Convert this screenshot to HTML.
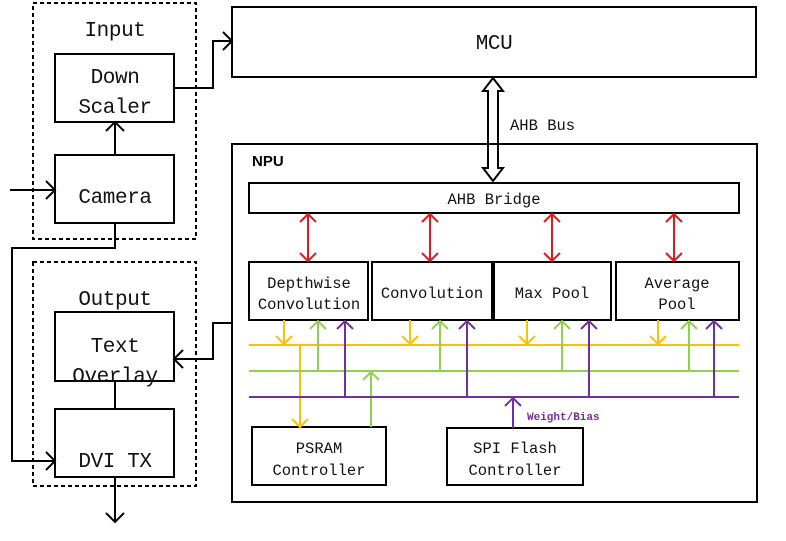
<!DOCTYPE html>
<html><head><meta charset="utf-8"><style>
html,body{margin:0;padding:0;background:#fff;width:786px;height:541px;overflow:hidden}
text{font-family:"Liberation Mono","Noto Sans CJK SC",monospace;fill:#111}
</style></head><body>
<svg width="786" height="541" viewBox="0 0 786 541" xmlns="http://www.w3.org/2000/svg">
<g fill="none" stroke="#000" stroke-width="2">
<rect x="33" y="3" width="163" height="236" stroke-dasharray="4,3"/>
<rect x="33" y="262" width="163" height="224" stroke-dasharray="4,3"/>
<rect x="55" y="54" width="119" height="68"/>
<rect x="55" y="155" width="119" height="68"/>
<rect x="55" y="312" width="119" height="69"/>
<rect x="55" y="409" width="119" height="68"/>
<rect x="232" y="7" width="524" height="70"/>
<rect x="232" y="144" width="525" height="358"/>
<rect x="249" y="183" width="490" height="30"/>
<rect x="249" y="262" width="119" height="58"/>
<rect x="372" y="262" width="120" height="58"/>
<rect x="494" y="262" width="117" height="58"/>
<rect x="616" y="262" width="123" height="58"/>
<rect x="252" y="427" width="134" height="58"/>
<rect x="447" y="428" width="136" height="57"/>
<path d="M115 155V122M106 131L115 122L124 131"/>
<path d="M10 190H55M46 181L55 190L46 199"/>
<path d="M115 223V248H12V461H55M46 452L55 461L46 470"/>
<path d="M115 381V409"/>
<path d="M115 477V522M106 513L115 522L124 513"/>
<path d="M174 88H213V41H232M223 32L232 41L223 50"/>
<path d="M232 323H213V359H174M183 350L174 359L183 368"/>
<path d="M493 78L503 91H498V168H503L493 181L483 168H488V91H483Z"/>
</g>
<g fill="none" stroke="#e8161b" stroke-width="2">
<path d="M308 214V261M300 222L308 214L316 222M300 253L308 261L316 253"/>
<path d="M430 214V261M422 222L430 214L438 222M422 253L430 261L438 253"/>
<path d="M552 214V261M544 222L552 214L560 222M544 253L552 261L560 253"/>
<path d="M674 214V261M666 222L674 214L682 222M666 253L674 261L682 253"/>
</g>
<g fill="none" stroke="#ffc000" stroke-width="2">
<path d="M249 345H739"/>
<path d="M284 320V344M276 336L284 344L292 336"/>
<path d="M410 320V344M402 336L410 344L418 336"/>
<path d="M527 320V344M519 336L527 344L535 336"/>
<path d="M658 320V344M650 336L658 344L666 336"/>
<path d="M300 345V427M292 419L300 427L308 419"/>
</g>
<g fill="none" stroke="#92d050" stroke-width="2">
<path d="M249 371H739"/>
<path d="M318 371V321M310 329L318 321L326 329"/>
<path d="M440 371V321M432 329L440 321L448 329"/>
<path d="M562 371V321M554 329L562 321L570 329"/>
<path d="M689 371V321M681 329L689 321L697 329"/>
<path d="M371 427V372M363 380L371 372L379 380"/>
</g>
<g fill="none" stroke="#7030a0" stroke-width="2">
<path d="M249 397H739"/>
<path d="M345 397V321M337 329L345 321L353 329"/>
<path d="M467 397V321M459 329L467 321L475 329"/>
<path d="M589 397V321M581 329L589 321L597 329"/>
<path d="M714 397V321M706 329L714 321L722 329"/>
<path d="M513 428V398M505 406L513 398L521 406"/>
</g>
<g text-anchor="middle" font-size="21" letter-spacing="-0.4">
<text x="115" y="36">Input</text>
<text x="115" y="83">Down</text>
<text x="115" y="113">Scaler</text>
<text x="115" y="203">Camera</text>
<text x="115" y="305">Output</text>
<text x="115" y="352">Text</text>
<text x="115" y="382">Overlay</text>
<text x="115" y="467">DVI TX</text>
<text x="494" y="49">MCU</text>
</g>
<g text-anchor="middle" font-size="15.5">
<text x="494" y="204">AHB Bridge</text>
<text x="309" y="288">Depthwise</text>
<text x="309" y="309">Convolution</text>
<text x="432" y="298">Convolution</text>
<text x="552" y="298">Max Pool</text>
<text x="677" y="288">Average</text>
<text x="677" y="309">Pool</text>
<text x="319" y="453">PSRAM</text>
<text x="319" y="475">Controller</text>
<text x="515" y="453">SPI Flash</text>
<text x="515" y="475">Controller</text>
</g>
<text x="510" y="130" font-size="15.5">AHB Bus</text>
<text x="252" y="166" font-size="15" font-weight="bold" style="fill:#000;font-family:'Liberation Sans',sans-serif">NPU</text>
<text x="527" y="420" font-size="11" font-weight="bold" style="fill:#7030a0">Weight/Bias</text>
</svg>
</body></html>
